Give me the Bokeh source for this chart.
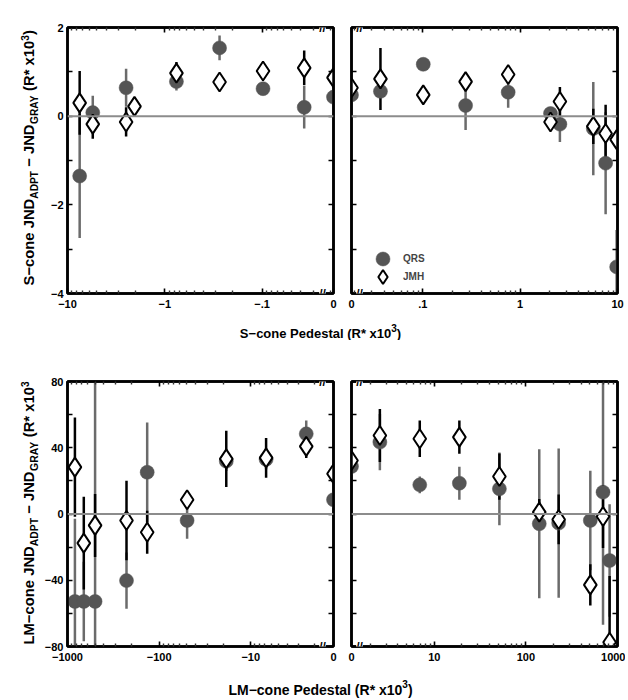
import math
from bokeh.plotting import figure
from bokeh.models import (Range1d, FixedTicker, LinearAxis, LogAxis, Label, Span,
                          Legend, LegendItem, ColumnDataSource)
from bokeh.layouts import row, column
from bokeh.embed import file_html
from bokeh.resources import INLINE

FONT = "Liberation Sans"
MINUS = "\u2212"

# ---------------- data (pedestal in R* x10^3, JND difference in R* x10^3) ----------------
# S-cone, negative pedestals (left panel)
s_neg_qrs_ped = [-7.5, -5.5, -2.5, -0.76, -0.274, -0.098, -0.037, 0]
s_neg_qrs_val = [-1.35, 0.08, 0.64, 0.78, 1.54, 0.62, 0.20, 0.43]
s_neg_qrs_err = [1.40, 0.38, 0.43, 0.20, 0.28, 0.12, 0.48, 0.12]
s_neg_jmh_ped = [-7.5, -5.5, -2.5, -2.05, -0.76, -0.274, -0.098, -0.037, 0]
s_neg_jmh_val = [0.30, -0.18, -0.13, 0.22, 0.97, 0.77, 1.02, 1.09, 0.87]
s_neg_jmh_err = [0.72, 0.33, 0.33, 0.12, 0.25, 0.12, 0.12, 0.39, 0.12]

# S-cone, positive pedestals (right panel)
s_pos_ped = [0, 0.0367, 0.101, 0.275, 0.753, 2.05, 2.56, 5.64, 7.55, 9.8]
s_pos_qrs_val = [0.48, 0.56, 1.17, 0.24, 0.54, 0.06, -0.18, -0.28, -1.06, -3.40]
s_pos_qrs_err = [0.12, 0.12, 0.12, 0.55, 0.35, 0.12, 0.40, 1.05, 1.15, 0.83]
s_pos_jmh_val = [0.64, 0.84, 0.48, 0.78, 0.94, -0.13, 0.33, -0.23, -0.39, -0.53]
s_pos_jmh_err = [0.12, 0.70, 0.12, 0.20, 0.12, 0.12, 0.33, 0.40, 0.65, 0.12]

# LM-cone, negative pedestals
lm_neg_ped = [-830, -664, -500, -227, -135, -49.5, -18.5, -6.8, -2.48, 0]
lm_neg_qrs_val = [-52.8, -52.8, -52.8, -40.2, 25.2, -3.9, 31.9, 33.0, 48.4, 8.6]
lm_neg_qrs_err = [50, 24, 140, 17, 30, 11, 6, 6, 8, 5]
lm_neg_jmh_val = [28.3, -17.6, -6.9, -3.9, -11.0, 8.6, 33.3, 33.9, 40.8, 24.3]
lm_neg_jmh_err = [30, 28, 19, 24, 13, 5, 17, 12, 7, 5]

# LM-cone, positive pedestals
lm_pos_ped = [0, 2.55, 6.95, 18.8, 51.4, 140, 228, 505, 695, 820]
lm_pos_qrs_val = [28.7, 43.4, 17.6, 18.6, 15.2, -5.9, -5.5, -3.9, 13.2, -28.1]
lm_pos_qrs_err = [5, 17, 5, 10, 22, 45, 45, 30, 80, 34]
lm_pos_jmh_val = [32.3, 47.4, 45.4, 46.4, 22.6, 1.1, -3.3, -42.8, -1.5, -77.4]
lm_pos_jmh_err = [5, 16, 11, 10, 14, 8, 15, 12.5, 19, 40]

# tick labels
s_neg_tick_labels = [MINUS + "10", MINUS + "1", MINUS + ".1", "0"]
s_pos_tick_labels = ["0", ".1", "1", "10"]
lm_neg_tick_labels = [MINUS + "1000", MINUS + "100", MINUS + "10", "0"]
lm_pos_tick_labels = ["0", "10", "100", "1000"]
s_y_ticks = [-4, -3, -2, -1, 0, 1, 2]
s_y_labels = [MINUS + "4", "", MINUS + "2", "", "0", "", "2"]
lm_y_ticks = [-80, -60, -40, -20, 0, 20, 40, 60, 80]
lm_y_labels = [MINUS + "80", "", MINUS + "40", "", "0", "", "40", "", "80"]

# broken-axis position used for the "0" pedestal
S_ZERO = 0.0185
LM_ZERO = 1.25

# ---------------- helpers ----------------
W = {' ': 278, '(': 333, ')': 333, '*': 389, MINUS: 584, '-': 333, '.': 278,
     'A': 722, 'D': 722, 'G': 778, 'J': 556, 'L': 611, 'M': 833, 'N': 722, 'P': 667,
     'R': 722, 'S': 667, 'T': 611, 'Y': 667, 'a': 556, 'c': 556, 'd': 611, 'e': 556,
     'l': 278, 'n': 611, 'o': 611, 's': 556, 't': 333, 'x': 556}
for d in "0123456789":
    W[d] = 556


def tw(s, fs):
    return sum(W.get(c, 556) for c in s) * fs / 1000.0


def mag(vals, zero):
    return [abs(v) if v != 0 else zero for v in vals]


def minor_log(lo, hi):
    out = []
    for k in range(-3, 4):
        for m in range(2, 10):
            v = m * 10 ** k
            if lo < v < hi:
                out.append(v)
    return out


def style_axis(ax, show, fs, standoff):
    ax.axis_line_width = 2.5
    ax.axis_line_color = "black"
    ax.major_tick_in = 5
    ax.major_tick_out = 0
    ax.minor_tick_in = 3
    ax.minor_tick_out = 0
    ax.major_tick_line_width = 1.6
    ax.minor_tick_line_width = 1.4
    ax.major_tick_line_color = "black"
    ax.minor_tick_line_color = "#333333"
    ax.major_label_text_font = FONT
    ax.major_label_text_font_style = "bold"
    ax.major_label_text_font_size = f"{fs}px"
    if show:
        ax.major_label_text_color = "black"
        ax.major_label_standoff = standoff
    else:
        ax.major_label_text_color = None
        ax.major_label_standoff = 0


def make_panel(xr, yr, xticks, xlabels, xminor, yticks, ylabels, fh, borders,
               show_y, xfs, yfs):
    p = figure(x_axis_type="log", x_range=xr, y_range=yr, frame_width=266,
               frame_height=fh, min_border_left=borders[0], min_border_right=borders[1],
               min_border_top=borders[2], min_border_bottom=borders[3], title=None,
               toolbar_location=None, output_backend="svg",
               x_axis_location=None, y_axis_location=None)
    p.grid.visible = False
    p.outline_line_color = "black"
    p.outline_line_width = 2.5
    p.background_fill_color = "white"
    p.border_fill_color = "white"
    for loc in ["below", "above"]:
        show = loc == "below"
        ax = LogAxis(ticker=FixedTicker(ticks=xticks, minor_ticks=xminor))
        ax.major_label_overrides = {t: (l if show else "") for t, l in zip(xticks, xlabels)}
        style_axis(ax, show, xfs, 6)
        p.add_layout(ax, loc)
    for loc in ["left", "right"]:
        show = show_y and loc == "left"
        ax = LinearAxis(ticker=FixedTicker(ticks=yticks, minor_ticks=[]))
        ax.major_label_overrides = {t: (l if show else "") for t, l in zip(yticks, ylabels)}
        style_axis(ax, show, yfs, 4)
        p.add_layout(ax, loc)
    p.add_layout(Span(location=0, dimension="width", line_color="#8c8c8c", line_width=2))
    return p


def draw_series(p, ped, zero, qv, qe, jped, jv, je):
    qx = mag(ped, zero)
    jx = mag(jped, zero)
    qs = ColumnDataSource(dict(x=qx, y=qv, lo=[v - e for v, e in zip(qv, qe)],
                               hi=[v + e for v, e in zip(qv, qe)]))
    js = ColumnDataSource(dict(x=jx, y=jv, lo=[v - e for v, e in zip(jv, je)],
                               hi=[v + e for v, e in zip(jv, je)]))
    p.segment(x0="x", y0="lo", x1="x", y1="hi", source=qs, line_color="#6b6b6b", line_width=2.5)
    p.segment(x0="x", y0="lo", x1="x", y1="hi", source=js, line_color="black", line_width=2.5)
    rq = p.scatter(x="x", y="y", source=qs, marker="circle", size=14,
                   fill_color="#555555", line_color="#555555", line_width=0.5)
    rj = p.scatter(x="x", y="y", source=js, marker="diamond", size=19,
                   fill_color="white", line_color="black", line_width=2)
    return rq, rj


def add_breaks(p, xs, fh):
    for y in [0, fh]:
        p.add_layout(Label(x=xs, y=y, x_units="screen", y_units="screen", text="//",
                           text_align="center", text_baseline="middle",
                           text_font=FONT, text_font_size="12px", text_font_style="bold",
                           text_color="black", background_fill_color="white",
                           background_fill_alpha=1.0))


def text_fig(w, h, top=0, bottom=0):
    f = figure(frame_width=w, frame_height=h, x_range=Range1d(0, 1), y_range=Range1d(0, 1),
               min_border=0, min_border_left=0, min_border_right=0, min_border_top=top,
               min_border_bottom=bottom, title=None, toolbar_location=None,
               output_backend="svg", x_axis_location=None, y_axis_location=None)
    f.grid.visible = False
    f.outline_line_color = None
    f.border_fill_color = "white"
    f.background_fill_color = "white"
    return f


def rich_text(f, pieces, sizes, x0, y0, vertical):
    """Lay out a run of text pieces (normal / subscript / superscript)."""
    pos = 0.0
    for txt, kind in pieces:
        fs = sizes[kind]
        stripped = txt.lstrip(" ")
        pos += tw(txt[:len(txt) - len(stripped)], sizes["n"])
        w = tw(stripped, fs)
        off = {"n": 0.0, "sub": 0.26 * sizes["n"], "sup": -0.42 * sizes["n"]}[kind]
        if vertical:
            lab = Label(x=x0 + off - 0.35 * fs, y=y0 + pos + w / 2, x_units="screen",
                        y_units="screen", text=stripped, angle=math.pi / 2,
                        text_align="center", text_baseline="middle")
        else:
            lab = Label(x=x0 + pos, y=y0 - off, x_units="screen", y_units="screen",
                        text=stripped, text_align="left", text_baseline="alphabetic")
        lab.text_font = FONT
        lab.text_font_style = "bold"
        lab.text_font_size = f"{fs:.1f}px"
        lab.text_color = "black"
        f.add_layout(lab)
        pos += w
    return pos


def one_legend(p, label, renderer, y):
    leg = Legend(items=[LegendItem(label=label, renderers=[renderer])], location=(14, y))
    leg.glyph_width = 35
    leg.glyph_height = 35
    leg.padding = 0
    leg.margin = 0
    leg.label_standoff = 3
    leg.border_line_color = None
    leg.background_fill_alpha = 0
    leg.label_text_font = FONT
    leg.label_text_font_style = "bold"
    leg.label_text_font_size = "10px"
    p.add_layout(leg, "center")


YLAB_W = 40
L_BORDER = 27
TOP_B, TOP_FH, BOT_B = 27, 266, 22
TOP2_B, BOT_FH = 41, 265

# ---------------- top row: S-cone ----------------
s_l = make_panel(Range1d(10, S_ZERO), Range1d(-4, 2), [10, 1, 0.1, S_ZERO * 1.0005],
                 s_neg_tick_labels, minor_log(S_ZERO, 10), s_y_ticks, s_y_labels,
                 TOP_FH, (L_BORDER, 9, TOP_B, BOT_B), True, 11, 11)
draw_series(s_l, s_neg_qrs_ped, S_ZERO, s_neg_qrs_val, s_neg_qrs_err,
            s_neg_jmh_ped, s_neg_jmh_val, s_neg_jmh_err)
add_breaks(s_l, 255, TOP_FH)

s_r = make_panel(Range1d(S_ZERO, 10), Range1d(-4, 2), [S_ZERO * 1.0005, 0.1, 1, 9.999],
                 s_pos_tick_labels, minor_log(S_ZERO, 10), s_y_ticks, s_y_labels,
                 TOP_FH, (9, 8, TOP_B, BOT_B), False, 11, 11)
rq, rj = draw_series(s_r, s_pos_ped, S_ZERO, s_pos_qrs_val, s_pos_qrs_err,
                     s_pos_ped, s_pos_jmh_val, s_pos_jmh_err)
add_breaks(s_r, 8, TOP_FH)
one_legend(s_r, "QRS", rq, 17)
one_legend(s_r, "JMH", rj, -1)

# y-title figure shares the panel's vertical structure (same frame)
ylab1 = text_fig(YLAB_W, TOP_FH, TOP_B, BOT_B)
rich_text(ylab1, [("S" + MINUS + "cone JND", "n"), ("ADPT", "sub"), (" " + MINUS + " JND", "n"),
                  ("GRAY", "sub"), (" (R* x10", "n"), ("3", "sup"), (")", "n")],
          {"n": 14.8, "sub": 10.2, "sup": 10.2}, 34, 8, True)

xlab1 = text_fig(625, 25)
pieces1 = [("S" + MINUS + "cone Pedestal (R* x10", "n"), ("3", "sup"), (")", "n")]
sz1 = {"n": 13, "sub": 10, "sup": 10}
tot1 = sum(tw(t, sz1[k]) for t, k in pieces1)
rich_text(xlab1, pieces1, sz1, 320 - tot1 / 2, 7, False)

# ---------------- bottom row: LM-cone ----------------
lm_l = make_panel(Range1d(1000, LM_ZERO), Range1d(-80, 80), [999.9, 100, 10, LM_ZERO * 1.0005],
                  lm_neg_tick_labels, minor_log(LM_ZERO, 1000), lm_y_ticks, lm_y_labels,
                  BOT_FH, (L_BORDER, 9, TOP2_B, BOT_B), True, 11, 11)
draw_series(lm_l, lm_neg_ped, LM_ZERO, lm_neg_qrs_val, lm_neg_qrs_err,
            lm_neg_ped, lm_neg_jmh_val, lm_neg_jmh_err)
add_breaks(lm_l, 255, BOT_FH)

lm_r = make_panel(Range1d(LM_ZERO, 1000), Range1d(-80, 80), [LM_ZERO * 1.0005, 10, 100, 999.9],
                  lm_pos_tick_labels, minor_log(LM_ZERO, 1000), lm_y_ticks, lm_y_labels,
                  BOT_FH, (9, 8, TOP2_B, BOT_B), False, 11, 11)
draw_series(lm_r, lm_pos_ped, LM_ZERO, lm_pos_qrs_val, lm_pos_qrs_err,
            lm_pos_ped, lm_pos_jmh_val, lm_pos_jmh_err)
add_breaks(lm_r, 8, BOT_FH)

ylab2 = text_fig(YLAB_W, BOT_FH, TOP2_B, BOT_B)
rich_text(ylab2, [("LM" + MINUS + "cone JND", "n"), ("ADPT", "sub"), (" " + MINUS + " JND", "n"),
                  ("GRAY", "sub"), (" (R* x10", "n"), ("3", "sup"), (")", "n")],
          {"n": 14.8, "sub": 10.4, "sup": 10.2}, 34, 2, True)

xlab2 = text_fig(625, 30)
pieces2 = [("LM" + MINUS + "cone Pedestal (R* x10", "n"), ("3", "sup"), (")", "n")]
sz2 = {"n": 14, "sub": 10, "sup": 10}
tot2 = sum(tw(t, sz2[k]) for t, k in pieces2)
rich_text(xlab2, pieces2, sz2, 320 - tot2 / 2, 9, False)

layout = column(row(ylab1, s_l, s_r), xlab1, row(ylab2, lm_l, lm_r), xlab2)

open("out.html", "w").write(file_html(layout, INLINE))
